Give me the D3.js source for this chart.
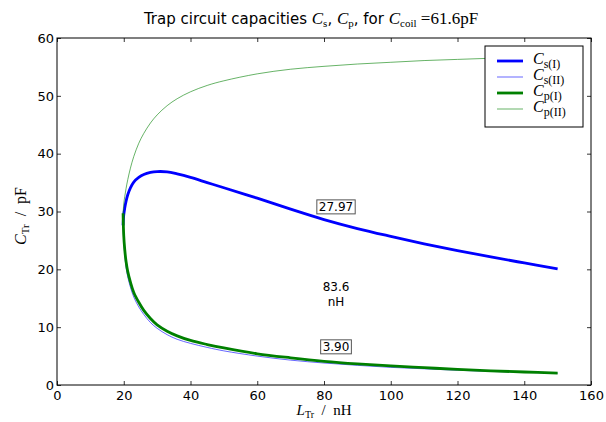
<!DOCTYPE html>
<html>
<head>
<meta charset="utf-8">
<script src="https://cdn.jsdelivr.net/npm/d3@7"></script>
<style>
  body { margin: 0; background: #fff; }
  svg { display: block; }
  .tick text { font-family: "DejaVu Sans", sans-serif; font-size: 13px; fill: #000; }
  .math { font-family: "Liberation Serif", "DejaVu Serif", serif; }
</style>
</head>
<body>
<svg id="chart" width="606" height="422"></svg>
<script>
// trap inductance (nH)
const inductance = [19.8, 20, 20.3, 20.7, 21.2, 22, 23, 24.5, 26, 28, 30, 33, 36, 40, 45, 50,
  60, 70, 80, 90, 100, 110, 120, 130, 140, 150];

// capacities (pF)
const csOne = [27.6, 29.4, 30.6, 31.8, 32.9, 34.1, 35.1, 35.9, 36.4, 36.75, 36.9, 36.85, 36.5, 35.9, 35.0, 34.1,
  32.3, 30.4, 28.6, 27.05, 25.7, 24.42, 23.25, 22.15, 21.1, 20.07];
const csTwo = [27.6, 24.8, 22.6, 20.3, 18.7, 16.9, 15.2, 13.5, 12.2, 10.8, 9.8, 8.7, 7.9, 7.2, 6.5, 5.9,
  5.0, 4.3, 3.8, 3.4, 3.05, 2.8, 2.55, 2.35, 2.2, 2.03];
const cpOne = [29.7, 25.8, 23.4, 21.3, 19.6, 17.8, 16.0, 14.3, 12.9, 11.5, 10.4, 9.3, 8.5, 7.7, 7.0, 6.4,
  5.4, 4.7, 4.1, 3.65, 3.3, 3.0, 2.7, 2.45, 2.25, 2.07];
const cpTwo = [29.7, 31.3, 32.6, 34.0, 35.5, 37.5, 39.5, 41.8, 43.5, 45.3, 46.7, 48.3, 49.5, 50.7, 51.8, 52.6,
  53.8, 54.6, 55.1, 55.5, 55.8, 56.1, 56.3, 56.5, 56.65, 56.8];

const xTicks = [0, 20, 40, 60, 80, 100, 120, 140, 160];
const yTicks = [0, 10, 20, 30, 40, 50, 60];

// annotations: [L, C, text]
const boxedNotes = [[83.6, 30.8, "27.97"], [83.6, 6.6, "3.90"]];
const freeNote = [83.6, 15.9, ["83.6", "nH"]];

const seriesList = [
  {sub: "s(I)", values: csOne, color: "#0000ff", width: 2.8},
  {sub: "s(II)", values: csTwo, color: "#0000ff", width: 0.6},
  {sub: "p(I)", values: cpOne, color: "#008000", width: 2.8},
  {sub: "p(II)", values: cpTwo, color: "#008000", width: 0.6}
];

const svg = d3.select("#chart");
const margin = {top: 38, right: 15, bottom: 37, left: 57};
const width = 606 - margin.left - margin.right;
const height = 422 - margin.top - margin.bottom;

const g = svg.append("g").attr("transform", `translate(${margin.left},${margin.top})`);

const xScale = d3.scaleLinear().domain([0, 160]).range([0, width]);
const yScale = d3.scaleLinear().domain([0, 60]).range([height, 0]);

// axes, ticks inside like matplotlib classic
function styleAxis(sel, showText) {
  sel.select(".domain").remove();
  sel.selectAll(".tick line").attr("stroke", "#000").attr("stroke-width", 0.8);
  if (!showText) sel.selectAll(".tick text").remove();
}

g.append("g").attr("transform", `translate(0,${height})`)
  .call(d3.axisBottom(xScale).tickValues(xTicks).tickSizeInner(-4).tickPadding(6).tickFormat(d3.format("d")))
  .call(s => styleAxis(s, true));
g.append("g")
  .call(d3.axisTop(xScale).tickValues(xTicks).tickSizeInner(-4))
  .call(s => styleAxis(s, false));
g.append("g")
  .call(d3.axisLeft(yScale).tickValues(yTicks).tickSizeInner(-4).tickPadding(3).tickFormat(d3.format("d")))
  .call(s => styleAxis(s, true));
g.append("g").attr("transform", `translate(${width},0)`)
  .call(d3.axisRight(yScale).tickValues(yTicks).tickSizeInner(-4))
  .call(s => styleAxis(s, false));

// lines
const line = d3.line()
  .x((d, i) => xScale(inductance[i]))
  .y(d => yScale(d))
  .curve(d3.curveCatmullRom.alpha(0.5));

seriesList.forEach(s => {
  g.append("path")
    .datum(s.values)
    .attr("d", line)
    .attr("fill", "none")
    .attr("stroke", s.color)
    .attr("stroke-width", s.width)
    .attr("stroke-linejoin", "round");
});

// frame
g.append("rect")
  .attr("width", width).attr("height", height)
  .attr("fill", "none").attr("stroke", "#000").attr("stroke-width", 1);

// annotations
boxedNotes.forEach(([lx, cy, txt]) => {
  const note = g.append("g");
  const box = note.append("rect");
  const t = note.append("text")
    .attr("x", xScale(lx)).attr("y", yScale(cy))
    .attr("text-anchor", "middle").attr("dominant-baseline", "central")
    .style("font-family", "DejaVu Sans, sans-serif").style("font-size", "12px")
    .text(txt);
  const bb = t.node().getBBox();
  box.attr("x", bb.x - 2).attr("y", bb.y)
    .attr("width", bb.width + 4).attr("height", bb.height)
    .attr("fill", "#fff").attr("stroke", "#555").attr("stroke-width", 1);
});

g.append("text")
  .attr("x", xScale(freeNote[0])).attr("y", yScale(freeNote[1]))
  .attr("text-anchor", "middle")
  .style("font-family", "DejaVu Sans, sans-serif").style("font-size", "12px")
  .selectAll("tspan").data(freeNote[2]).enter().append("tspan")
  .attr("x", xScale(freeNote[0]))
  .attr("dy", (d, i) => i === 0 ? "-0.15em" : "1.2em")
  .text(d => d);

// legend
const legend = g.append("g").attr("transform", `translate(${width - 106},8)`);
legend.append("rect")
  .attr("width", 98).attr("height", 81)
  .attr("fill", "#fff").attr("stroke", "#000").attr("stroke-width", 1);

seriesList.forEach((s, i) => {
  const y = 15 + i * 16;
  legend.append("line")
    .attr("x1", 12).attr("x2", 38).attr("y1", y).attr("y2", y)
    .attr("stroke", s.color).attr("stroke-width", s.width);
  const t = legend.append("text").attr("class", "math")
    .attr("x", 48).attr("y", y + 3).style("font-size", "16px");
  t.append("tspan").style("font-style", "italic").text("C");
  t.append("tspan").attr("dy", 4).style("font-size", "12px").text(s.sub);
});

// title
const title = svg.append("text")
  .attr("x", 311).attr("y", 24)
  .attr("text-anchor", "middle")
  .style("font-family", "DejaVu Sans, sans-serif").style("font-size", "15px");
title.append("tspan").text("Trap circuit capacities ");
title.append("tspan").attr("class", "math").style("font-style", "italic").style("font-size", "17px").text("C");
title.append("tspan").attr("class", "math").attr("dy", 3).style("font-size", "11px").text("s");
title.append("tspan").attr("dy", -3).text(", ");
title.append("tspan").attr("class", "math").style("font-style", "italic").style("font-size", "17px").text("C");
title.append("tspan").attr("class", "math").attr("dy", 3).style("font-size", "11px").text("p");
title.append("tspan").attr("dy", -3).text(", for ");
title.append("tspan").attr("class", "math").style("font-style", "italic").style("font-size", "17px").text("C");
title.append("tspan").attr("class", "math").attr("dy", 3).style("font-size", "11px").text("coil");
title.append("tspan").attr("class", "math").attr("dy", -3).style("font-size", "17px").text(" =61.6pF");

// axis labels
const xLabel = svg.append("text").attr("class", "math")
  .attr("x", margin.left + width / 2).attr("y", 415)
  .attr("text-anchor", "middle").style("font-size", "15px");
xLabel.append("tspan").style("font-style", "italic").text("L");
xLabel.append("tspan").attr("dy", 3).style("font-size", "10px").text("Tr");
xLabel.append("tspan").attr("dy", -3).text("\u00a0 /\u00a0 nH");

const yLabel = svg.append("text").attr("class", "math")
  .attr("transform", `translate(26,216) rotate(-90)`)
  .attr("text-anchor", "middle").style("font-size", "16px");
yLabel.append("tspan").style("font-style", "italic").text("C");
yLabel.append("tspan").attr("dy", 3).style("font-size", "11px").text("Tr");
yLabel.append("tspan").attr("dy", -3).text("\u00a0 /\u00a0 pF");
</script>
</body>
</html>
